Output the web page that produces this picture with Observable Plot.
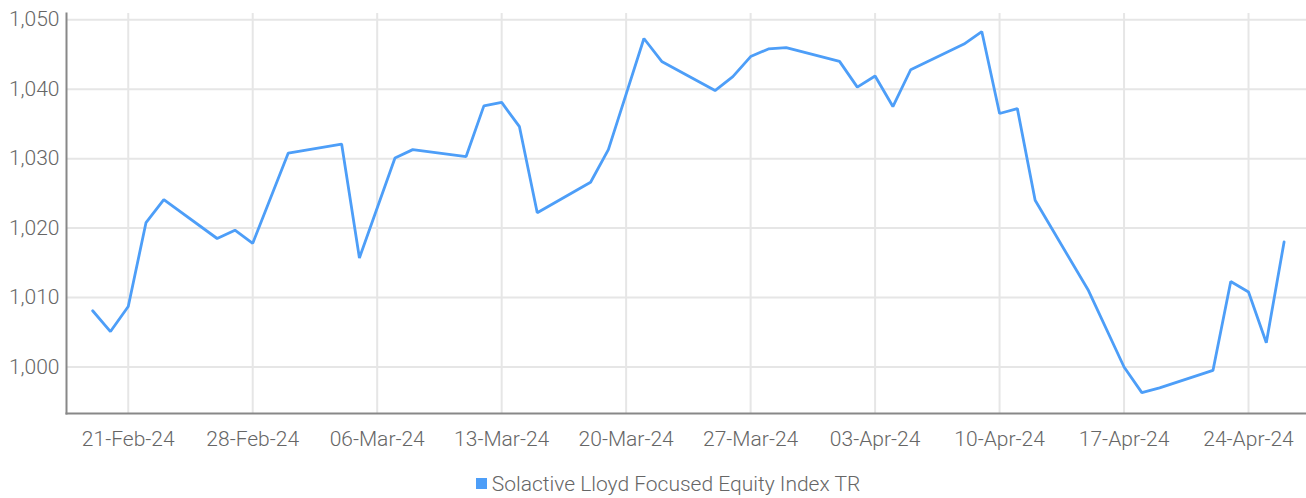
<!DOCTYPE html>
<html>
<head>
<meta charset="utf-8">
<script src="https://cdn.jsdelivr.net/npm/d3@7"></script>
<script src="https://cdn.jsdelivr.net/npm/@observablehq/plot@0.6"></script>
<style>
  html, body { margin: 0; padding: 0; background: #fff; }
  #wrap { position: relative; width: 1306px; height: 498px; font-family: Roboto, sans-serif; }
  #legend { position: absolute; left: 0; width: 1306px; top: 470px; text-align: center; font-size: 21px; font-weight: 300; color: #666; line-height: 28px; box-sizing: border-box; padding-left: 30px; }
  #legend .sw { display: inline-block; width: 11px; height: 11px; background: #4d9ef8; margin-right: 5px; vertical-align: 2px; }
  #chart svg text { font-weight: 300; }
</style>
</head>
<body>
<div id="wrap"><div id="chart"></div><div id="legend"><span class="sw"></span><span id="lt"></span></div></div>
<script>
const dates = ["2024-02-19","2024-02-20","2024-02-21","2024-02-22","2024-02-23","2024-02-26","2024-02-27","2024-02-28","2024-03-01","2024-03-04","2024-03-05","2024-03-07","2024-03-08","2024-03-11","2024-03-12","2024-03-13","2024-03-14","2024-03-15","2024-03-18","2024-03-19","2024-03-20","2024-03-21","2024-03-22","2024-03-25","2024-03-26","2024-03-27","2024-03-28","2024-03-29","2024-04-01","2024-04-02","2024-04-03","2024-04-04","2024-04-05","2024-04-08","2024-04-09","2024-04-10","2024-04-11","2024-04-12","2024-04-15","2024-04-17","2024-04-18","2024-04-19","2024-04-22","2024-04-23","2024-04-24","2024-04-25","2024-04-26"];
const values = [1008.1,1005.1,1008.7,1020.8,1024.1,1018.5,1019.7,1017.8,1030.8,1032.1,1015.7,1030.1,1031.3,1030.3,1037.6,1038.1,1034.6,1022.2,1026.6,1031.3,1039.3,1047.3,1044.0,1039.8,1041.8,1044.7,1045.8,1046.0,1044.0,1040.3,1041.9,1037.5,1042.8,1046.5,1048.3,1036.5,1037.2,1024.0,1011.0,1000.0,996.3,997.0,999.5,1012.3,1010.8,1003.5,1018.0];
const xTicks = ["2024-02-21","2024-02-28","2024-03-06","2024-03-13","2024-03-20","2024-03-27","2024-04-03","2024-04-10","2024-04-17","2024-04-24"];
const yTicks = [1000,1010,1020,1030,1040,1050];
const seriesName = "Solactive Lloyd Focused Equity Index TR";

const data = dates.map((d, i) => ({date: new Date(d + "T00:00:00Z"), value: values[i]}));
const xt = xTicks.map(d => new Date(d + "T00:00:00Z"));
const fmt = d3.utcFormat("%d-%b-%y");

const chart = Plot.plot({
  width: 1306,
  height: 458,
  marginLeft: 66,
  marginRight: 0,
  marginTop: 13,
  marginBottom: 45,
  style: {fontFamily: "Roboto, sans-serif", fontSize: "21px", color: "#666", background: "#fff"},
  x: {type: "utc", domain: [new Date("2024-02-17T12:40:00Z"), new Date("2024-04-27T06:15:00Z")]},
  y: {domain: [993.3, 1050.9]},
  marks: [
    Plot.gridX(xt, {stroke: "#e6e6e6", strokeOpacity: 1, strokeWidth: 2}),
    Plot.gridY(yTicks, {stroke: "#e6e6e6", strokeOpacity: 1, strokeWidth: 2}),
    Plot.axisX(xt, {tickSize: 0, tickPadding: 18, tickFormat: fmt, fill: "#666", label: null}),
    Plot.axisY(yTicks, {tickSize: 0, tickPadding: 7, tickFormat: d3.format(","), fill: "#666", label: null}),
    Plot.frame({anchor: "left", stroke: "#888", strokeWidth: 2}),
    Plot.frame({anchor: "bottom", stroke: "#888", strokeWidth: 2}),
    Plot.line(data, {x: "date", y: "value", stroke: "#4d9ef8", strokeWidth: 2.8, strokeLinejoin: "miter"})
  ]
});
document.getElementById("chart").appendChild(chart);
document.getElementById("lt").textContent = seriesName;
</script>
</body>
</html>
